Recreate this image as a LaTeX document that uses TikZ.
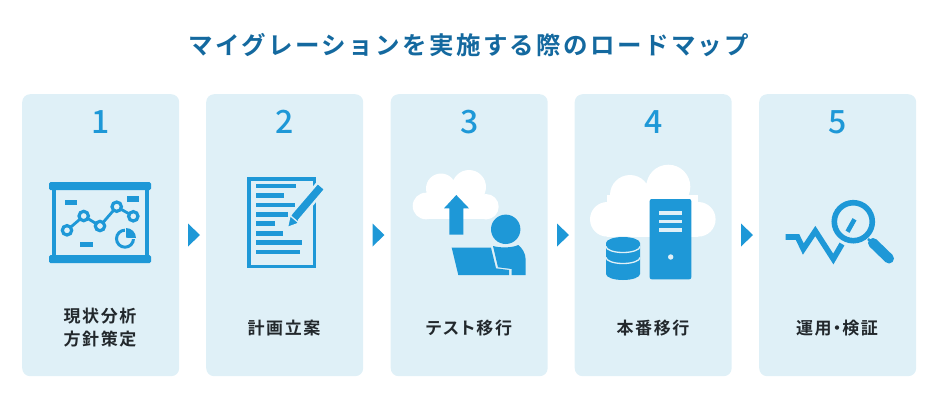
\documentclass[tikz,border=0pt]{standalone}
\usepackage{fontspec}
\setmainfont{Noto Sans CJK JP}[BoldFont={* Bold}]
\newfontfamily\titlefont{Noto Sans CJK JP Bold}[LetterSpace=9.6]
\newfontfamily\labelfont{Noto Sans CJK JP Bold}[LetterSpace=9,RawFeature={+palt}]
\newfontfamily\numfont{Noto Sans CJK JP Medium}
\definecolor{iconblue}{HTML}{1E98D7}
\definecolor{cardblue}{HTML}{DFF0F7}
\definecolor{titleblue}{HTML}{14699F}
\definecolor{labelnavy}{HTML}{22282C}
\tikzset{
  card/.style={fill=cardblue,rounded corners=8pt,minimum width=157pt,minimum height=282pt,inner sep=0pt,anchor=north west},
  numlabel/.style={text=iconblue,font=\fontsize{32}{32}\numfont,inner sep=0pt},
  steplabel/.style={text=labelnavy,font=\fontsize{17}{23}\labelfont,align=center,inner sep=0pt},
  marker/.style={fill=iconblue},
  icon/.style={fill=iconblue},
}
\begin{document}
\begin{tikzpicture}[x=1pt,y=-1pt]
  \useasboundingbox (0,0) rectangle (938,400);
  \node[text=titleblue,font=\fontsize{24.5}{24.5}\titlefont,inner sep=0pt] (title) at (469,45) {マイグレーションを実施する際のロードマップ};
  \foreach \n/\x/\numx in {1/22/101,2/206/285,3/390.5/469.5,4/574.5/654,5/759/838}{
    \node[card] (card\n) at (\x,94) {};
    \node[numlabel] (num\n) at (\numx,122) {\n};
  }
  \node[steplabel] (label1) at (100,327.5) {現状分析\\方針策定};
  \node[steplabel] (label2) at (284,328) {計画立案};
  \node[steplabel] (label3) at (469,328) {テスト移行};
  \node[steplabel] (label4) at (653,328) {本番移行};
  \node[steplabel] (label5) at (837,328) {運用\hspace{1pt}・\hspace{1pt}検証};
  % triangles between the cards
  \foreach \x in {188,372.5,557,741}
    \fill[marker] (\x,223.5) -- (\x+12,235) -- (\x,246.5) -- cycle;
  % icon 1: board
  \fill[icon,rounded corners=1.5pt] (49,182) rectangle (151,190);
  \fill[icon,rounded corners=1.5pt] (49,255) rectangle (151,263);
  \fill[icon] (52.3,188) rectangle (56,257);
  \fill[icon] (144.7,188) rectangle (148.7,257);
  \fill[icon] (65,200.3) rectangle (77,205.3);
  \fill[icon] (127,196.3) rectangle (139.3,202);
  \fill[icon] (80.3,241.7) rectangle (92.7,247.3);
  \draw[iconblue,line width=2.8pt] (67,230.3) -- (83.7,216) -- (100,226) -- (116.7,206.7) -- (133.3,216.3);
  \foreach \x/\y in {67/230.3,83.7/216,100/226,116.7/206.7,133.3/216.3}
    \draw[draw=iconblue,fill=cardblue,line width=3.2pt] (\x,\y) circle (4.7pt);
  \draw[iconblue,line width=3pt] (125,238.7) circle (8.5pt);
  \fill[cardblue] (125,238.7) -- (125,227) -- (137,227) -- (137,238.7) -- cycle;
  \fill[icon] (126,237.7) -- (126,228) arc (90:0:10pt) -- cycle;
  % icon 2: document and pen
  \draw[iconblue,line width=3.8pt] (248.9,178.6) rectangle (314.4,266.4);
  \foreach \y/\xe in {186/296,195.3/284,205/295,214.3/288,223.7/275,233.3/283,242.7/302,252/300}
    \fill[icon] (256.3,\y-2.4) rectangle (\xe,\y+2.4);
  \fill[iconblue,draw=cardblue,line width=2.4pt,line join=miter] (286.7,228.3) -- (289.3,216.7) -- (291.7,213) -- (317.7,182.7) -- (325.3,189.3) -- (299.3,220) -- (298.3,224) -- cycle;
  \draw[cardblue,line width=1.3pt] (289.5,215) -- (299,223);
  % icon 3: cloud, arrow, person and laptop
  \fill[white] (426,206) circle (13.3pt) (441,188.5) circle (15pt) (469,187) circle (17pt) (486,206.7) circle (12.7pt);
  \fill[white] (426,195) rectangle (486,219.3);
  \fill[icon] (449.3,234.7) -- (449.3,208.3) -- (444,208.3) -- (456.3,195) -- (469,208.3) -- (463.3,208.3) -- (463.3,234.7) -- cycle;
  \fill[icon] (505.7,229.3) circle (14.7pt);
  \fill[icon] (451.7,247.7) -- (491,247.7) -- (496,268.3) -- (509,270) -- (509,275) -- (458.3,275) -- cycle;
  \fill[icon] (493,246) .. controls (500,248) and (512,248) .. (518.3,245) .. controls (522,248) and (525.7,253) .. (525.7,260) -- (525.7,275) -- (511.7,275) -- (511.7,269) -- (498,267.3) -- cycle;
  % icon 4: cloud, server and database
  \fill[white] (607.3,219.3) circle (17.3pt) (630,195) circle (20pt) (668.3,186.7) circle (22pt) (698.3,219.3) circle (17.3pt);
  \fill[white] (607,195) rectangle (698,236.7);
  \fill[icon,rounded corners=2pt] (649.7,199) rectangle (691.3,279.3);
  \foreach \y in {213,221.3,230}
    \fill[cardblue] (659,\y-1.7) rectangle (682.3,\y+1.7);
  \fill[cardblue] (670.7,257) circle (2.7pt);
  \draw[cardblue,line width=1.3pt] (606,243) arc (180:360:17 and 6) -- (640,274) arc (0:180:17 and 6) -- cycle;
  \fill[icon] (606,243) arc (180:360:17 and 6) -- (640,274) arc (0:180:17 and 6) -- cycle;
  \foreach \y in {246.5,257.5}
    \draw[cardblue,line width=1.3pt] (606,\y) arc (180:0:17 and 6);
  % icon 5: zigzag and magnifier
  \draw[iconblue,line width=5.6pt,miter limit=10] (785.7,237) -- (797.5,237) -- (803.3,249) -- (815.3,231) -- (833.3,259) -- (842,244);
  \draw[iconblue,line width=5.6pt] (853.3,221.7) circle (19pt);
  \draw[iconblue,line width=2.5pt] (868,239) -- (875,245);
  \draw[iconblue,line width=10pt,line cap=round] (873,243) -- (889,258.5);
  \draw[iconblue,line width=4.6pt] (854.5,219.3) -- (847.5,231.7);
\end{tikzpicture}
\end{document}
